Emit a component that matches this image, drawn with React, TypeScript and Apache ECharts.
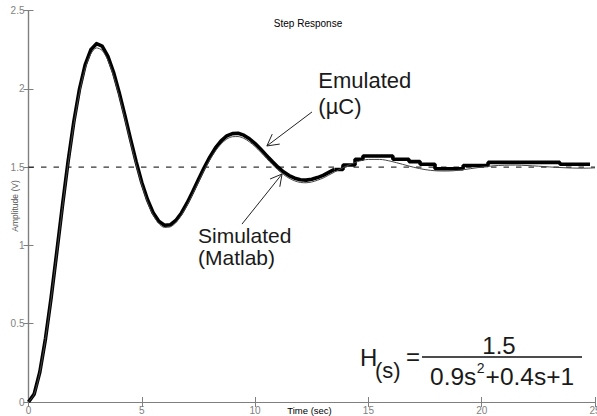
import React, { useEffect, useRef } from "react";
import * as echarts from "echarts";

// Simulated (Matlab) response
const simT = [
  0, 0.25, 0.5, 0.75, 1, 1.25, 1.5, 1.75, 2, 2.25, 2.5, 2.75, 3, 3.25, 3.5, 3.75, 4, 4.25, 4.5, 4.75,
  5, 5.25, 5.5, 5.75, 6, 6.25, 6.5, 6.75, 7, 7.25, 7.5, 7.75, 8, 8.25, 8.5, 8.75, 9, 9.25, 9.5, 9.75,
  10, 10.25, 10.5, 10.75, 11, 11.25, 11.5, 11.75, 12, 12.25, 12.5, 12.75, 13, 13.5, 14, 14.5, 15, 15.5,
  16, 16.5, 17, 17.5, 18, 18.5, 19, 19.5, 20, 20.5, 21, 21.5, 22, 22.5, 23, 23.5, 24, 24.5, 25,
];
const simV = [
  0, 0.05, 0.189, 0.4, 0.659, 0.948, 1.241, 1.521, 1.769, 1.975, 2.127, 2.223, 2.261, 2.245, 2.183, 2.082,
  1.954, 1.81, 1.66, 1.516, 1.386, 1.277, 1.194, 1.14, 1.115, 1.118, 1.145, 1.193, 1.256, 1.328, 1.404,
  1.478, 1.546, 1.603, 1.648, 1.679, 1.694, 1.695, 1.684, 1.661, 1.631, 1.595, 1.556, 1.518, 1.483, 1.453,
  1.429, 1.412, 1.402, 1.4, 1.405, 1.416, 1.43, 1.468, 1.505, 1.534, 1.549, 1.549, 1.537, 1.518, 1.499,
  1.484, 1.476, 1.475, 1.48, 1.49, 1.5, 1.508, 1.512, 1.513, 1.51, 1.506, 1.501, 1.497, 1.494, 1.493, 1.495,
];

// Emulated (µC) response
const emuT = [
  0, 0.25, 0.5, 0.75, 1, 1.25, 1.5, 1.75, 2, 2.25, 2.5, 2.75, 3, 3.25, 3.5, 3.75, 4, 4.25, 4.5, 4.75,
  5, 5.25, 5.5, 5.75, 6, 6.25, 6.5, 6.75, 7, 7.25, 7.5, 7.75, 8, 8.25, 8.5, 8.75, 9, 9.25, 9.5, 9.75,
  10, 10.25, 10.5, 10.75, 11, 11.25, 11.5, 11.75, 12, 12.25, 12.5, 12.75, 13, 13.5,
];
const emuV = [
  0, 0.05, 0.192, 0.405, 0.667, 0.959, 1.256, 1.539, 1.79, 1.998, 2.153, 2.249, 2.288, 2.272, 2.209, 2.107,
  1.977, 1.832, 1.68, 1.534, 1.402, 1.293, 1.209, 1.154, 1.129, 1.131, 1.159, 1.207, 1.271, 1.344, 1.421,
  1.496, 1.564, 1.623, 1.668, 1.699, 1.714, 1.716, 1.704, 1.681, 1.65, 1.614, 1.575, 1.537, 1.501, 1.47,
  1.446, 1.429, 1.419, 1.417, 1.422, 1.433, 1.447, 1.485,
];
// Emulated tail: held (quantised) levels
const stepT = [13.5, 13.88, 14.41, 14.76, 16.08, 16.79, 17.28, 17.94, 19.18, 20.28, 23.45, 24.78];
const stepV = [1.485, 1.513, 1.55, 1.571, 1.55, 1.535, 1.518, 1.489, 1.51, 1.53, 1.518, 1.518];

const setpoint = 1.5;
const xRange = [0, 25];
const yRange = [0, 2.5];

const FONT = "'Liberation Sans', Arial, Helvetica, sans-serif";
const AXIS_GRAY = "#7f7f7f";

export default function App() {
  const ref = useRef<HTMLDivElement>(null);

  useEffect(() => {
    if (!ref.current) return;
    const chart = echarts.init(ref.current, null, { renderer: "svg" });

    const axisCommon = {
      type: "value" as const,
      axisLine: { show: true, lineStyle: { color: AXIS_GRAY, width: 1.2 } },
      axisTick: { show: true, inside: true, length: 5, lineStyle: { color: AXIS_GRAY } },
      splitLine: { show: false },
    };

    const option: any = {
      animation: false,
      backgroundColor: "#fff",
      grid: {
        left: 28.5,
        right: 2,
        top: 10.5,
        bottom: 14,
        containLabel: false,
        outerBoundsMode: "none",
      },
      xAxis: [
        {
          ...axisCommon,
          min: xRange[0],
          max: xRange[1],
          interval: 5,
          position: "bottom",
          axisLabel: { color: AXIS_GRAY, fontSize: 10, margin: 3, fontFamily: FONT },
        },
        {
          ...axisCommon,
          min: xRange[0],
          max: xRange[1],
          interval: 5,
          position: "top",
          axisLabel: { show: false },
        },
      ],
      yAxis: [
        {
          ...axisCommon,
          min: yRange[0],
          max: yRange[1],
          interval: 0.5,
          position: "left",
          axisLabel: { color: AXIS_GRAY, fontSize: 10, margin: 4, fontFamily: FONT },
        },
        {
          ...axisCommon,
          min: yRange[0],
          max: yRange[1],
          interval: 0.5,
          position: "right",
          axisLabel: { show: false },
        },
      ],
      series: [
        {
          type: "line",
          name: "setpoint",
          data: [
            [xRange[0], setpoint],
            [xRange[1], setpoint],
          ],
          showSymbol: false,
          lineStyle: { color: "#000", width: 1, type: [5.5, 7] },
          z: 1,
        },
        {
          type: "line",
          name: "Emulated",
          data: emuT.map((t, i) => [t, emuV[i]]),
          showSymbol: false,
          lineStyle: { color: "#000", width: 3.6, join: "round" },
          z: 2,
        },
        {
          type: "line",
          name: "Emulated tail",
          step: "end",
          data: stepT.map((t, i) => [t, stepV[i]]),
          showSymbol: false,
          lineStyle: { color: "#000", width: 3.6 },
          z: 2,
        },
        {
          type: "line",
          name: "Simulated",
          data: simT.map((t, i) => [t, simV[i]]),
          showSymbol: false,
          smooth: 0.3,
          lineStyle: { color: "#444", width: 1 },
          z: 3,
        },
      ],
    };

    chart.setOption(option);

    const toPx = (p: number[]) => chart.convertToPixel({ seriesIndex: 3 }, p) as number[];

    const arrow = (tail: number[], tip: number[]) => {
      const a = toPx(tail);
      const b = toPx(tip);
      const dx = b[0] - a[0];
      const dy = b[1] - a[1];
      const len = Math.hypot(dx, dy);
      const ux = dx / len;
      const uy = dy / len;
      const L = 13;
      const ang = 0.5;
      const wing = (s: number) => {
        const c = Math.cos(s * ang);
        const sn = Math.sin(s * ang);
        const rx = ux * c - uy * sn;
        const ry = ux * sn + uy * c;
        return [b[0] - L * rx, b[1] - L * ry];
      };
      const w1 = wing(1);
      const w2 = wing(-1);
      const st = { stroke: "#222", lineWidth: 1 };
      return [
        { type: "line", shape: { x1: a[0], y1: a[1], x2: b[0], y2: b[1] }, style: st, silent: true },
        { type: "line", shape: { x1: b[0], y1: b[1], x2: w1[0], y2: w1[1] }, style: st, silent: true },
        { type: "line", shape: { x1: b[0], y1: b[1], x2: w2[0], y2: w2[1] }, style: st, silent: true },
      ];
    };

    const measure = (txt: string, font: string) => {
      const c = document.createElement("canvas").getContext("2d");
      if (!c) return txt.length * 12;
      c.font = font;
      return c.measureText(txt).width;
    };

    const txt = (text: string, x: number, y: number, size: number, extra: any = {}) => ({
      type: "text",
      x,
      y,
      silent: true,
      style: {
        text,
        fontSize: size,
        fontFamily: FONT,
        fill: extra.fill || "#1a1a1a",
        textAlign: extra.align || "left",
        textVerticalAlign: "middle",
        verticalAlign: "middle",
      },
      ...(extra.rotation ? { rotation: extra.rotation } : {}),
    });

    const emuLabel = toPx([12.79, 2.056]);
    const simLabel = toPx([7.48, 1.054]);

    const denLeft = 430;
    const denY = 376;
    const dSize = 24.5;
    const w1 = measure("0.9s", `${dSize}px ${FONT}`);
    const w2 = measure("2", `14px ${FONT}`);

    const graphics: any[] = [
      txt("Step Response", 308, 23, 10, { align: "center", fill: "#000" }),
      txt("Time (sec)", 309.5, 410, 9.5, { align: "center", fill: "#000" }),
      txt("Amplitude (V)", 15, 206, 8.5, { align: "center", fill: "#555", rotation: Math.PI / 2 }),
      txt("Emulated", emuLabel[0], emuLabel[1], 22),
      txt("(\u00b5C)", emuLabel[0], emuLabel[1] + 26, 22),
      txt("Simulated", simLabel[0], simLabel[1] - 1, 21),
      txt("(Matlab)", simLabel[0], simLabel[1] + 21, 21),
      ...arrow([12.51, 1.852], [10.52, 1.635]),
      ...arrow([9.42, 1.136], [11.19, 1.456]),
      // transfer function
      txt("H", 360, 357.5, 24),
      txt("(s)", 375, 370, 22),
      txt("=", 406, 356, 24),
      {
        type: "line",
        silent: true,
        shape: { x1: 422, y1: 357, x2: 582, y2: 357 },
        style: { stroke: "#111", lineWidth: 1.6 },
      },
      txt("1.5", 499, 345, 24, { align: "center" }),
      txt("0.9s", denLeft, denY, dSize),
      txt("2", denLeft + w1 + 0.5, denY - 8, 14),
      txt("+0.4s+1", denLeft + w1 + w2 + 1.5, denY, dSize),
    ];

    chart.setOption({ graphic: graphics });

    return () => {
      chart.dispose();
    };
  }, []);

  return (
    <div
      ref={ref}
      style={{ position: "fixed", left: 0, top: 0, width: 597, height: 416, background: "#fff" }}
    />
  );
}
